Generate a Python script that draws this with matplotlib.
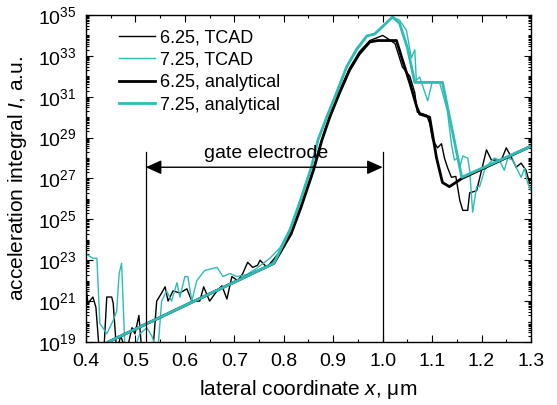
import matplotlib
matplotlib.use('Agg')
import numpy as np
import matplotlib.pyplot as plt

plt.rcParams['font.family'] = ['Liberation Sans', 'DejaVu Sans']
plt.rcParams['mathtext.fontset'] = 'custom'
plt.rcParams['mathtext.rm'] = 'Liberation Sans'
plt.rcParams['mathtext.it'] = 'Liberation Sans:italic'

TEAL = '#2dbdb5'

# analytical curves (x in um, log10 of I)
ana625_x = [0.445, 0.78, 0.815, 0.835, 0.86, 0.877, 0.893, 0.913, 0.933, 0.953, 0.974, 0.99,
            1.028, 1.04, 1.055, 1.069, 1.075, 1.095, 1.109, 1.121, 1.135, 1.16, 1.30]
ana625_log = [19.0, 22.85, 24.3, 25.6, 27.4, 28.87, 30.0, 31.2, 32.3, 33.1, 33.68, 33.75,
              33.75, 32.8, 31.67, 30.5, 30.15, 30.0, 28.0, 26.8, 26.6, 27.0, 28.58]

ana725_x = [0.445, 0.78, 0.812, 0.832, 0.856, 0.869, 0.887, 0.907, 0.927, 0.947, 0.968, 0.984,
            1.02, 1.034, 1.05, 1.065, 1.121, 1.16, 1.30]
ana725_log = [19.0, 22.85, 24.46, 25.8, 27.56, 28.87, 30.0, 31.2, 32.45, 33.3, 33.97, 34.07,
              34.9, 34.6, 33.4, 31.7, 31.7, 27.06, 28.58]

# TCAD curves
tcad625_x = [0.398, 0.404, 0.414, 0.42, 0.427, 0.436, 0.442, 0.452, 0.455, 0.462, 0.47, 0.482,
             0.493, 0.499, 0.507, 0.513, 0.535, 0.543, 0.553, 0.56, 0.566, 0.576, 0.59, 0.604,
             0.614, 0.63, 0.638, 0.65, 0.665, 0.675, 0.685, 0.695, 0.707, 0.717, 0.727, 0.737,
             0.747, 0.752, 0.766, 0.778, 0.798, 0.815, 0.835, 0.86, 0.877, 0.893, 0.913, 0.933,
             0.953, 0.974, 0.99, 1.0, 1.01, 1.025, 1.04, 1.055, 1.065, 1.07, 1.089, 1.095,
             1.101, 1.111, 1.119, 1.125, 1.131, 1.139, 1.148, 1.156, 1.162, 1.172, 1.176, 1.19,
             1.2, 1.21, 1.22, 1.23, 1.24, 1.25, 1.26, 1.27, 1.28, 1.29, 1.297]
tcad625_log = [22.1, 20.9, 21.2, 20.7, 18.5, 18.5, 21.2, 21.2, 20.9, 18.5, 19.3, 18.5,
               19.7, 19.4, 20.3, 18.5, 18.5, 21.0, 21.4, 21.7, 21.0, 21.5, 21.4, 21.6,
               21.0, 21.0, 21.7, 21.0, 21.5, 21.75, 21.1, 22.2, 22.0, 22.35, 22.9, 22.65,
               22.75, 23.0, 22.65, 23.0, 23.6, 24.4, 25.7, 27.5, 28.9, 30.1, 31.3, 32.4,
               33.2, 33.75, 33.9, 34.0, 33.85, 33.6, 32.45, 32.0, 31.2, 30.25, 30.1, 29.7,
               28.9, 28.5, 28.7, 28.0, 27.55, 27.06, 27.1, 25.93, 25.44, 25.44, 26.3, 26.4,
               27.4, 28.4, 27.9, 27.9, 27.9, 28.5, 28.05, 27.55, 27.75, 27.4, 26.8]

tcad725_x = [0.398, 0.414, 0.422, 0.428, 0.434, 0.442, 0.455, 0.462, 0.467, 0.472, 0.475, 0.479,
             0.495, 0.509, 0.523, 0.533, 0.545, 0.553, 0.563, 0.573, 0.584, 0.59, 0.6, 0.606,
             0.614, 0.624, 0.64, 0.665, 0.677, 0.691, 0.705, 0.725, 0.745, 0.772, 0.792, 0.812,
             0.832, 0.856, 0.869, 0.887, 0.907, 0.927, 0.947, 0.968, 0.984, 1.02, 1.034, 1.048,
             1.058, 1.065, 1.068, 1.075, 1.091, 1.1, 1.115, 1.121, 1.131, 1.139, 1.145, 1.152,
             1.156, 1.162, 1.172, 1.176, 1.182, 1.19, 1.196, 1.206, 1.216, 1.226, 1.236, 1.246,
             1.253, 1.263, 1.273, 1.28, 1.287, 1.293, 1.3]
tcad725_log = [23.33, 23.1, 23.1, 19.9, 19.7, 19.4, 20.05, 20.5, 22.35, 22.85, 21.0, 18.5,
               18.5, 19.4, 19.7, 19.3, 18.5, 21.0, 21.5, 21.0, 21.9, 21.2, 22.2, 22.2,
               21.0, 22.0, 22.5, 22.65, 22.2, 22.35, 22.2, 22.3, 22.6, 23.1, 23.6, 24.5,
               25.85, 27.6, 28.9, 30.05, 31.25, 32.5, 33.35, 34.0, 34.1, 34.9, 34.75, 34.26,
               32.9, 33.3, 31.8, 31.96, 30.8, 31.7, 31.7, 31.2, 30.3, 28.7, 27.9, 28.0,
               27.55, 28.1, 28.0, 27.4, 25.35, 26.6, 26.6, 27.4, 27.75, 28.0, 27.9, 27.4,
               28.0, 27.9, 27.4, 27.06, 27.5, 26.8, 26.4]

gate_start = 0.521
gate_end = 1.0

fig = plt.figure(figsize=(5.57, 4.05), dpi=100)
ax = fig.add_axes([0.1544, 0.1556, 0.7989, 0.8074])

ax.plot(tcad625_x, 10.0 ** np.array(tcad625_log), color='black', lw=1.0, label='6.25, TCAD')
ax.plot(tcad725_x, 10.0 ** np.array(tcad725_log), color=TEAL, lw=1.0, label='7.25, TCAD')
ax.plot(ana625_x, 10.0 ** np.array(ana625_log), color='black', lw=2.0, label='6.25, analytical')
ax.plot(ana725_x, 10.0 ** np.array(ana725_log), color=TEAL, lw=2.0, label='7.25, analytical')

# gate electrode marker
ax.plot([gate_start, gate_start], [1e19, 10 ** 28.3], color='black', lw=0.9)
ax.plot([gate_end, gate_end], [1e19, 10 ** 28.3], color='black', lw=0.9)
ax.annotate('', xy=(gate_start, 10 ** 27.55), xytext=(gate_end, 10 ** 27.55),
            arrowprops=dict(arrowstyle='<|-|>,head_length=0.95,head_width=0.43',
                            mutation_scale=10, color='black', lw=1.0,
                            shrinkA=0, shrinkB=0))
ax.text(0.765, 10 ** 28.2, 'gate electrode', fontsize=14, ha='center', va='center')

ax.set_yscale('log')
ax.set_xlim(0.4, 1.3)
ax.set_ylim(1e19, 1e35)

exps = list(range(19, 36, 2))
ax.set_yticks([10.0 ** e for e in exps], labels=[r'$10^{%d}$' % e for e in exps])
minor = []
for d in range(19, 35):
    for k in range(1, 10):
        if k == 1 and d % 2 == 1:
            continue
        minor.append(k * 10.0 ** d)
ax.yaxis.set_minor_locator(matplotlib.ticker.FixedLocator(minor))
ax.yaxis.set_minor_formatter(matplotlib.ticker.NullFormatter())

xt = np.arange(0.4, 1.31, 0.1)
ax.set_xticks(xt, labels=['%.1f' % v for v in xt])
ax.xaxis.set_minor_locator(matplotlib.ticker.MultipleLocator(0.05))

ax.tick_params(which='both', direction='in', top=True, right=True, labelsize=14, width=0.8)
ax.tick_params(which='major', length=5)
ax.tick_params(which='minor', length=2.5)
ax.tick_params(axis='x', which='major', pad=8)
ax.tick_params(axis='y', which='major', pad=7)
for s in ax.spines.values():
    s.set_linewidth(1.0)

ax.set_xlabel('lateral coordinate $x$, μm', fontsize=15, labelpad=6)
ax.set_ylabel('acceleration integral $I$, a.u.', fontsize=15, labelpad=6)

ax.legend(loc='upper left', bbox_to_anchor=(0.045, 0.995), frameon=False, fontsize=13,
          handlelength=2.0, labelspacing=0.3, handletextpad=0.3, borderaxespad=0.3)

fig.savefig('out.png', dpi=100)
